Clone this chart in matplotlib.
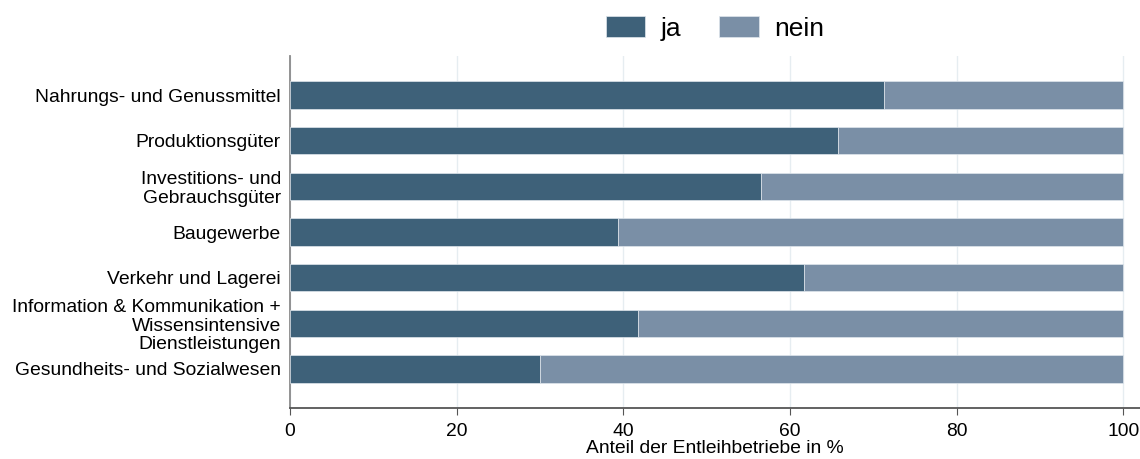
import matplotlib.pyplot as plt
import numpy as np

plt.rcParams['font.family'] = ['Liberation Sans', 'DejaVu Sans']

# Branchen und Anteile (in %)
categories = [
    "Nahrungs- und Genussmittel",
    "Produktionsgüter",
    "Investitions- und\nGebrauchsgüter",
    "Baugewerbe",
    "Verkehr und Lagerei",
    "Information & Kommunikation +\nWissensintensive\nDienstleistungen",
    "Gesundheits- und Sozialwesen",
]
ja = [71.3, 65.7, 56.5, 39.3, 61.7, 41.8, 30.0]
nein = [100 - v for v in ja]
xticks = [0, 20, 40, 60, 80, 100]

col_ja = '#3e6179'
col_nein = '#7a8fa6'

fig = plt.figure(figsize=(11.4, 4.59), dpi=100)
ax = fig.add_axes([290 / 1140, 51 / 459, 850 / 1140, 352 / 459])

y = np.arange(len(categories))
ax.barh(y, ja, height=0.6, color=col_ja, edgecolor='#dfe6ec', linewidth=0.5, label='ja', zorder=3)
ax.barh(y, nein, left=ja, height=0.6, color=col_nein, edgecolor='#dfe6ec', linewidth=0.5, label='nein', zorder=3)

ax.set_xlim(0, 102)
ax.set_ylim(6.855, -0.855)
ax.set_yticks(y)
ax.set_yticklabels(categories, fontsize=13.9, linespacing=1.12)
ax.set_xticks(xticks)
ax.set_xticklabels([str(t) for t in xticks], fontsize=13.9)
ax.tick_params(axis='y', length=0, pad=6.5)
ax.tick_params(axis='x', length=5, color='#555555', pad=6)
ax.set_xlabel("Anteil der Entleihbetriebe in %", fontsize=13.9, labelpad=0)

ax.grid(axis='x', color='#e6edf1', linewidth=1, zorder=0)
for s in ['top', 'right']:
    ax.spines[s].set_visible(False)
ax.spines['left'].set_color('#8a8a8a')
ax.spines['left'].set_linewidth(1.3)
ax.spines['bottom'].set_color('#555555')
ax.spines['bottom'].set_linewidth(1.3)

fig.legend(loc='upper center', bbox_to_anchor=(0.627, 1.016), ncol=2, frameon=False,
           fontsize=19, handlelength=1.5, handleheight=0.8, columnspacing=1.44, handletextpad=0.57)

fig.savefig('out.png', dpi=100)
